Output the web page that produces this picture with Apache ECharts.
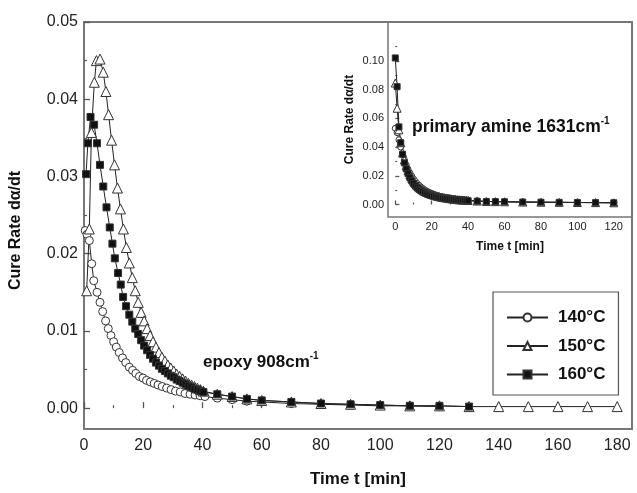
<!DOCTYPE html>
<html><head><meta charset="utf-8">
<script src="https://cdn.jsdelivr.net/npm/echarts@6/dist/echarts.min.js"></script>
<style>html,body{margin:0;padding:0;background:#fff}#c{width:637px;height:493px}</style>
</head><body><div id="c"></div>
<script>
// ---------- data: main plot (epoxy 908 cm-1) ----------
const t140 = [0.4, 1.0, 1.8, 2.6, 3.3, 4.4, 5.4, 6.3, 7.3, 8.2, 9.1, 10.0, 10.9, 11.9, 13.0, 14.1, 15.3, 16.4, 17.5, 18.7, 19.9, 21.1, 22.4, 23.7, 25.0, 26.4, 27.9, 29.4, 30.9, 32.5, 34.1, 35.8, 37.5, 39.2, 40.8, 45, 50, 55, 60, 70, 80, 90, 100, 110, 120];
const v140 = [0.0230, 0.0225, 0.0217, 0.0187, 0.0165, 0.0150, 0.0137, 0.0125, 0.0113, 0.0103, 0.0094, 0.0086, 0.0079, 0.0072, 0.0065, 0.0059, 0.0053, 0.0049, 0.0045, 0.0041, 0.0039, 0.0036, 0.0034, 0.0032, 0.0030, 0.0028, 0.0026, 0.0024, 0.0022, 0.0021, 0.0019, 0.0018, 0.0017, 0.0016, 0.0015, 0.0013, 0.0011, 0.0009, 0.0008, 0.0006, 0.0005, 0.0004, 0.0003, 0.0003, 0.0002];

const t150 = [0.9, 1.8, 2.5, 3.5, 4.2, 5.4, 6.5, 7.4, 8.3, 9.3, 10.3, 11.3, 12.3, 13.3, 14.3, 15.3, 16.3, 17.3, 18.3, 19.3, 20.3, 21.3, 22.3, 23.3, 24.3, 25.3, 26.3, 27.3, 28.3, 29.3, 30.3, 31.3, 32.3, 33.3, 34.3, 35.3, 36.3, 37.3, 38.3, 39.3, 40.3, 45, 50, 55, 60, 70, 80, 90, 100, 110, 120, 130, 140, 150, 160, 170, 180];
const v150 = [0.0152, 0.0232, 0.0357, 0.0422, 0.0450, 0.0452, 0.0435, 0.0410, 0.0380, 0.0347, 0.0315, 0.0285, 0.0258, 0.0232, 0.0208, 0.0188, 0.0169, 0.0152, 0.0137, 0.0124, 0.0113, 0.0103, 0.0094, 0.0086, 0.0079, 0.0072, 0.0066, 0.0061, 0.0056, 0.0052, 0.0048, 0.0044, 0.0041, 0.0038, 0.0035, 0.0032, 0.0030, 0.0028, 0.0026, 0.0024, 0.0022, 0.0018, 0.0015, 0.0012, 0.0010, 0.0008, 0.0006, 0.0005, 0.0004, 0.0003, 0.0003, 0.0002, 0.0002, 0.0002, 0.0002, 0.0002, 0.0002];

const t160 = [0.7, 1.3, 2.2, 3.4, 4.4, 5.4, 6.5, 7.6, 8.7, 9.6, 10.4, 11.5, 12.4, 13.2, 14.2, 15.3, 16.3, 17.3, 18.3, 19.3, 20.3, 21.3, 22.3, 23.3, 24.3, 25.3, 26.3, 27.3, 28.3, 29.3, 30.3, 31.3, 32.3, 33.3, 34.3, 35.3, 36.3, 37.3, 38.3, 39.3, 40.3, 45, 50, 55, 60, 70, 80, 90, 100, 110, 120, 130];
const v160 = [0.0303, 0.0343, 0.0377, 0.0367, 0.0343, 0.0315, 0.0287, 0.0260, 0.0234, 0.0213, 0.0194, 0.0175, 0.0160, 0.0144, 0.0132, 0.0121, 0.0112, 0.0103, 0.0096, 0.0088, 0.0081, 0.0075, 0.0069, 0.0064, 0.0059, 0.0055, 0.0051, 0.0048, 0.0045, 0.0042, 0.0040, 0.0037, 0.0035, 0.0033, 0.0031, 0.0029, 0.0027, 0.0025, 0.0024, 0.0022, 0.0021, 0.0018, 0.0015, 0.0012, 0.0010, 0.0008, 0.0006, 0.0005, 0.0004, 0.0003, 0.0003, 0.0002];

// ---------- data: inset (primary amine 1631 cm-1) ----------
const tIn = [0,1,2,3,4,5,6,7,8,9,10,11,12,13,14,15,16,17,18,19,20,21,22,23,24,25,26,27,28,29,30,31,32,33,34,35,36,37,38,39,40,45,50,55,60,70,80,90,100,110,120];
const in140 = [0.053, 0.050, 0.045, 0.040, 0.035, 0.031, 0.0275, 0.0245, 0.022, 0.0198, 0.0178, 0.0161, 0.0146, 0.0133, 0.0122, 0.0112, 0.0103, 0.0095, 0.0088, 0.0082, 0.0077, 0.0072, 0.0067, 0.0063, 0.0059, 0.0056, 0.0053, 0.0050, 0.0048, 0.0046, 0.0044, 0.0042, 0.0040, 0.0038, 0.0036, 0.0035, 0.0034, 0.0033, 0.0032, 0.0031, 0.0030, 0.0025, 0.0022, 0.0020, 0.0019, 0.0017, 0.0016, 0.0015, 0.0014, 0.0013, 0.0012];
const in150 = [0.0845, 0.067, 0.052, 0.043, 0.036, 0.031, 0.027, 0.0235, 0.0207, 0.0183, 0.0163, 0.0146, 0.0132, 0.0120, 0.0110, 0.0101, 0.0093, 0.0086, 0.0080, 0.0075, 0.0070, 0.0066, 0.0062, 0.0058, 0.0055, 0.0052, 0.0049, 0.0047, 0.0045, 0.0043, 0.0041, 0.0039, 0.0037, 0.0036, 0.0034, 0.0033, 0.0032, 0.0031, 0.0030, 0.0029, 0.0028, 0.0024, 0.0021, 0.0020, 0.0019, 0.0017, 0.0016, 0.0015, 0.0014, 0.0013, 0.0012];
const in160 = [0.102, 0.082, 0.054, 0.043, 0.035, 0.029, 0.0248, 0.0215, 0.0188, 0.0165, 0.0146, 0.0130, 0.0117, 0.0106, 0.0097, 0.0089, 0.0082, 0.0076, 0.0071, 0.0066, 0.0062, 0.0058, 0.0055, 0.0052, 0.0049, 0.0047, 0.0045, 0.0043, 0.0041, 0.0039, 0.0037, 0.0036, 0.0034, 0.0033, 0.0032, 0.0031, 0.0030, 0.0029, 0.0028, 0.0027, 0.0026, 0.0023, 0.0021, 0.0020, 0.0019, 0.0017, 0.0016, 0.0015, 0.0014, 0.0013, 0.0012];

// ---------- ticks ----------
const mainXTicks = [0, 20, 40, 60, 80, 100, 120, 140, 160, 180];
const mainXMinor = [10, 30, 50, 70, 90, 110, 130, 150, 170];
const mainYTicks = [0, 0.01, 0.02, 0.03, 0.04, 0.05];
const mainYMinor = [0.005, 0.015, 0.025, 0.035, 0.045];
const inXTicks = [0, 20, 40, 60, 80, 100, 120];
const inXMinor = [10, 30, 50, 70, 90, 110];
const inYTicks = [0, 0.02, 0.04, 0.06, 0.08, 0.10];
const inYMinor = [0.01, 0.03, 0.05, 0.07, 0.09, 0.11];
const seriesNames = ['140°C', '150°C', '160°C'];

const FONT = '"Liberation Sans", Arial, Helvetica, sans-serif';
const AX = '#555';

function pairs(t, v) { return t.map((x, i) => [x, v[i]]); }

function xAx(grid, min, max, ticks, minor, big, name) {
  return [{
    type: 'value', gridIndex: grid, min: min, max: max, position: 'bottom',
    axisLine: { show: false }, splitLine: { show: false },
    axisTick: { inside: true, length: big ? 6 : 4, customValues: ticks, lineStyle: { color: AX, width: 1.3 } },
    axisLabel: { customValues: ticks, fontSize: big ? 16 : 11, color: '#222', margin: big ? 9 : 4, fontFamily: FONT },
    name: name, nameLocation: 'middle', nameGap: big ? 42 : 24,
    nameTextStyle: { fontWeight: 'bold', fontSize: big ? 17 : 12, color: '#111', fontFamily: FONT }
  }, {
    type: 'value', gridIndex: grid, min: min, max: max, position: 'bottom',
    axisLine: { show: false }, splitLine: { show: false },
    axisTick: { inside: true, length: big ? 3 : 2, customValues: minor, lineStyle: { color: AX, width: 1.2 } },
    axisLabel: { show: false }
  }];
}
function yAx(grid, min, max, ticks, minor, big, name, gap) {
  return [{
    type: 'value', gridIndex: grid, min: min, max: max, position: 'left',
    axisLine: { show: false }, splitLine: { show: false },
    axisTick: { inside: true, length: big ? 6 : 4, customValues: ticks, lineStyle: { color: AX, width: 1.3 } },
    axisLabel: { customValues: ticks, fontSize: big ? 16 : 11, color: '#222', margin: big ? 6 : 4, fontFamily: FONT,
      formatter: v => v.toFixed(2) },
    name: name, nameLocation: 'middle', nameGap: gap, nameRotate: 90,
    nameTextStyle: { fontWeight: 'bold', fontSize: big ? 16 : 12, color: '#111', fontFamily: FONT,
      padding: big ? [0, 10, 0, 0] : 0 }
  }, {
    type: 'value', gridIndex: grid, min: min, max: max, position: 'left',
    axisLine: { show: false }, splitLine: { show: false },
    axisTick: { inside: true, length: big ? 3 : 2, customValues: minor, lineStyle: { color: AX, width: 1.2 } },
    axisLabel: { show: false }
  }];
}

const styles = [
  { symbol: 'circle', size: 8, fill: '#fff' },
  { symbol: 'triangle', size: 10, fill: '#fff' },
  { symbol: 'rect', size: 7, fill: '#111' }
];
function mkSeries(name, data, sIdx, xi, yi, scale) {
  const st = styles[sIdx];
  return {
    type: 'line', name: name, data: data, xAxisIndex: xi, yAxisIndex: yi,
    symbol: st.symbol, symbolSize: Math.round(st.size * scale), showSymbol: true,
    itemStyle: { color: st.fill, borderColor: '#333', borderWidth: 1 },
    lineStyle: { color: '#222', width: 1 },
    emphasis: { disabled: true }, animation: false, clip: false
  };
}

const option = {
  animation: false,
  backgroundColor: '#fff',
  grid: [
    { left: 83, top: 22, width: 549, height: 415, show: true, borderColor: '#777', borderWidth: 2, backgroundColor: 'transparent' },
    { left: 388, top: 22, width: 244, height: 195, show: true, borderColor: '#777', borderWidth: 1.5, backgroundColor: 'transparent' }
  ],
  xAxis: [].concat(
    xAx(0, 0, 185, mainXTicks, mainXMinor, true, 'Time t [min]'),
    xAx(1, -4, 130, inXTicks, inXMinor, false, 'Time t [min]')
  ),
  yAxis: [].concat(
    yAx(0, -0.0027, 0.05, mainYTicks, mainYMinor, true, 'Cure Rate dα/dt', 60),
    yAx(1, -0.0087, 0.127, inYTicks, inYMinor, false, 'Cure Rate dα/dt', 32)
  ),
  legend: {
    data: seriesNames, orient: 'vertical', left: 493, top: 292,
    padding: [17, 13, 12, 13], itemWidth: 41, itemHeight: 10, itemGap: 11.5,
    borderColor: '#555', borderWidth: 1.2,
    textStyle: { fontSize: 17, fontWeight: 'bold', fontFamily: FONT, color: '#111', padding: [0, 0, 0, 5] },
    selectedMode: false
  },
  graphic: [
    { type: 'text', left: 203, top: 351, z: 10,
      style: { text: '{a|epoxy 908cm}{s|-1}', rich: {
        a: { fontSize: 17, fontWeight: 'bold', fontFamily: FONT, fill: '#111', lineHeight: 22 },
        s: { fontSize: 10, fontWeight: 'bold', fontFamily: FONT, fill: '#111', verticalAlign: 'top', lineHeight: 22 } } } },
    { type: 'text', left: 412, top: 116, z: 10,
      style: { text: '{a|primary amine 1631cm}{s|-1}', rich: {
        a: { fontSize: 17.5, fontWeight: 'bold', fontFamily: FONT, fill: '#111', lineHeight: 23 },
        s: { fontSize: 10, fontWeight: 'bold', fontFamily: FONT, fill: '#111', verticalAlign: 'top', lineHeight: 23 } } } }
  ],
  series: [
    mkSeries(seriesNames[0], pairs(t140, v140), 0, 0, 0, 1),
    mkSeries(seriesNames[1], pairs(t150, v150), 1, 0, 0, 1),
    mkSeries(seriesNames[2], pairs(t160, v160), 2, 0, 0, 1),
    mkSeries(seriesNames[0], pairs(tIn, in140), 0, 2, 2, 0.75),
    mkSeries(seriesNames[1], pairs(tIn, in150), 1, 2, 2, 0.75),
    mkSeries(seriesNames[2], pairs(tIn, in160), 2, 2, 2, 0.85)
  ]
};
const chart = echarts.init(document.getElementById('c'), null, { renderer: 'canvas' });
chart.setOption(option);
</script></body></html>
